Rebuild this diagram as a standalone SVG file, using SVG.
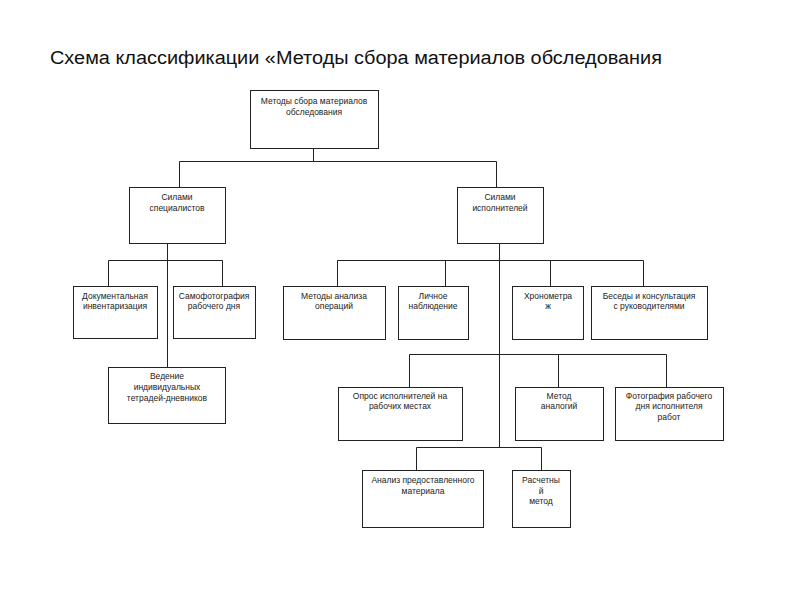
<svg xmlns="http://www.w3.org/2000/svg" width="800" height="600" viewBox="0 0 800 600">
<style>
.box{fill:#fff;stroke:#222;stroke-width:1}
.t{font-family:"Liberation Sans",Arial,sans-serif;font-size:8.5px;fill:#222;text-anchor:middle}
.title{font-family:"Liberation Sans",Arial,sans-serif;font-size:18px;fill:#111}
.c{fill:none;stroke:#222;stroke-width:1}
</style>
<rect width="800" height="600" fill="#fff"/>
<text class="title" x="50" y="64" textLength="612" lengthAdjust="spacingAndGlyphs">Схема классификации «Методы сбора материалов обследования</text>
<g id="connectors">
<path class="c" d="M313.5 148V161.5M179.5 187V161.5H496.5V187"/>
<path class="c" d="M167.5 243V367M108.5 286V260.5H222.5V286"/>
<path class="c" d="M499.5 243V447.5M337.5 286V260.5H643.5V286M445.5 260.5V286M550.5 260.5V286"/>
<path class="c" d="M409.5 387V354.5H666.5V387M558.5 354.5V387"/>
<path class="c" d="M416.5 470V447.5H541.5V470"/>
</g>
<g id="root"><rect class="box" x="250.5" y="90.5" width="128" height="58"/><text class="t" x="314" y="104">Методы сбора материалов</text><text class="t" x="314" y="115">обследования</text></g>
<g id="specialists"><rect class="box" x="129.5" y="187.5" width="96" height="56"/><text class="t" x="177" y="200">Силами</text><text class="t" x="177" y="211">специалистов</text></g>
<g id="executors"><rect class="box" x="457.5" y="187.5" width="86" height="56"/><text class="t" x="500" y="200">Силами</text><text class="t" x="500" y="211">исполнителей</text></g>
<g id="doc"><rect class="box" x="73.5" y="286.5" width="84" height="52"/><text class="t" x="115" y="299">Документальная</text><text class="t" x="115" y="309">инвентаризация</text></g>
<g id="selfphoto"><rect class="box" x="173.5" y="286.5" width="82" height="52"/><text class="t" x="214" y="299">Самофотография</text><text class="t" x="214" y="309">рабочего дня</text></g>
<g id="diaries"><rect class="box" x="108.5" y="367.5" width="117" height="56"/><text class="t" x="167" y="379">Ведение</text><text class="t" x="167" y="390">индивидуальных</text><text class="t" x="167" y="401">тетрадей-дневников</text></g>
<g id="ops"><rect class="box" x="283.5" y="286.5" width="102" height="53"/><text class="t" x="334" y="299">Методы анализа</text><text class="t" x="334" y="309">операций</text></g>
<g id="observ"><rect class="box" x="398.5" y="286.5" width="70" height="53"/><text class="t" x="433" y="299">Личное</text><text class="t" x="433" y="309">наблюдение</text></g>
<g id="chrono"><rect class="box" x="512.5" y="286.5" width="71" height="53"/><text class="t" x="548" y="299">Хронометра</text><text class="t" x="548" y="309">ж</text></g>
<g id="talks"><rect class="box" x="591.5" y="286.5" width="116" height="53"/><text class="t" x="649" y="299">Беседы и консультация</text><text class="t" x="649" y="309">с руководителями</text></g>
<g id="survey"><rect class="box" x="338.5" y="387.5" width="124" height="53"/><text class="t" x="400" y="399">Опрос исполнителей на</text><text class="t" x="400" y="409">рабочих местах</text></g>
<g id="analog"><rect class="box" x="515.5" y="387.5" width="88" height="53"/><text class="t" x="559" y="399">Метод</text><text class="t" x="559" y="409">аналогий</text></g>
<g id="photo"><rect class="box" x="615.5" y="387.5" width="108" height="53"/><text class="t" x="669" y="399">Фотография рабочего</text><text class="t" x="669" y="409">дня исполнителя</text><text class="t" x="669" y="420">работ</text></g>
<g id="material"><rect class="box" x="362.5" y="470.5" width="121" height="57"/><text class="t" x="423" y="483">Анализ предоставленного</text><text class="t" x="423" y="494">материала</text></g>
<g id="calc"><rect class="box" x="512.5" y="470.5" width="58" height="57"/><text class="t" x="541" y="483">Расчетны</text><text class="t" x="541" y="494">й</text><text class="t" x="541" y="504">метод</text></g>
</svg>
